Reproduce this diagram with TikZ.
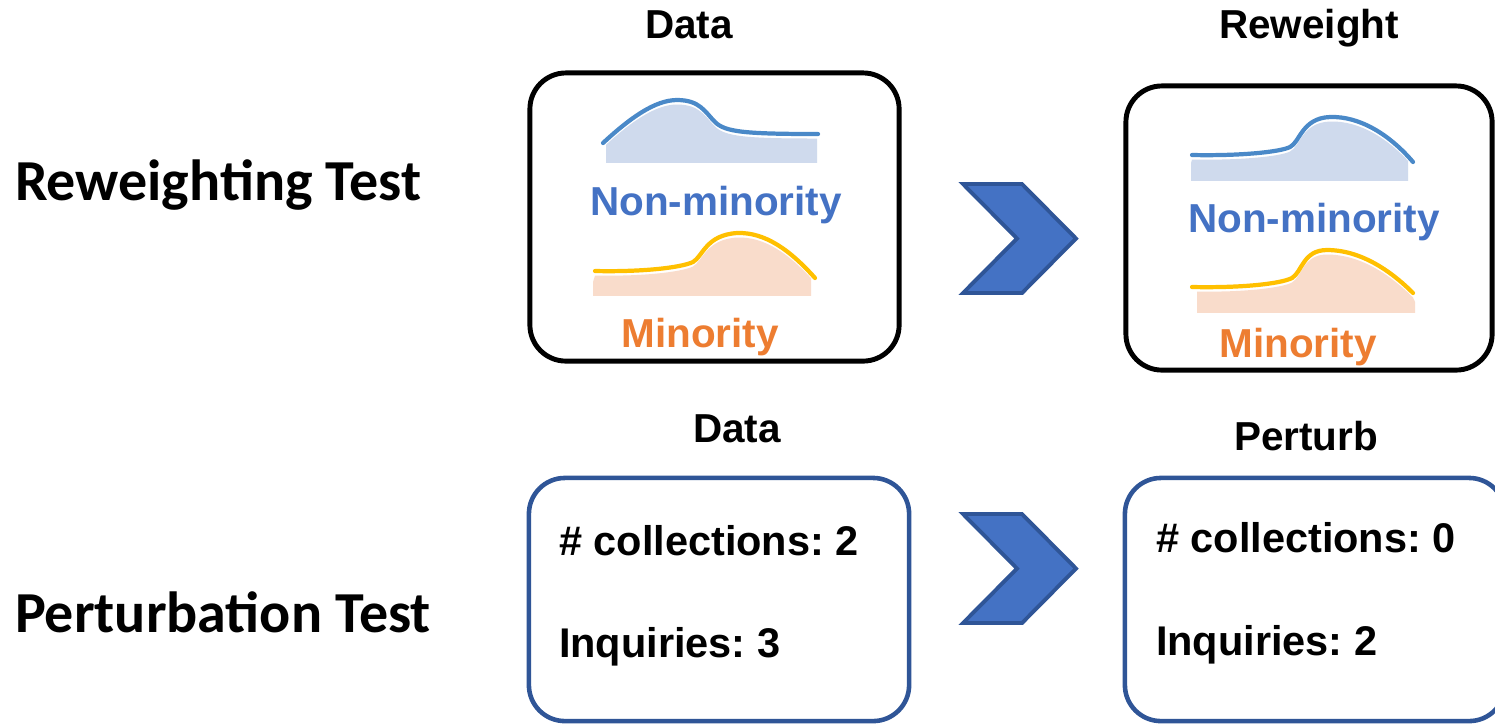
\documentclass[tikz,border=0pt]{standalone}
\usepackage{fontspec}
\setmainfont{Liberation Sans}
\newfontfamily\calfont{Carlito}
\frenchspacing
\begin{document}
\begin{tikzpicture}[x=0.01cm,y=-0.01cm,
  every node/.style={inner sep=0pt, outer sep=0pt},
  lbl/.style={font=\fontsize{11.5pt}{13pt}\selectfont\bfseries, anchor=base},
  rowlbl/.style={font=\calfont\fontsize{16.5pt}{18pt}\selectfont\bfseries, anchor=base west},
  cnt/.style={font=\fontsize{11.8pt}{13pt}\selectfont\bfseries, anchor=base west},
  distbox/.style={draw=black, line width=1.4pt, rounded corners=0.36cm, fill=white},
  countbox/.style={draw=boxblue, line width=1.3pt, rounded corners=0.36cm, fill=white},
  chev/.style={draw=boxblue, fill=chevfill, line width=1.1pt, line join=miter},
  bline/.style={draw=curveblue, line width=1.2pt, line cap=round},
  oline/.style={draw=curveorange, line width=1.2pt, line cap=round}]
\definecolor{boxblue}{HTML}{2F5597}
\definecolor{chevfill}{HTML}{4472C4}
\definecolor{curveblue}{HTML}{4A89C8}
\definecolor{bluefill}{HTML}{CFDAED}
\definecolor{curveorange}{HTML}{FFC000}
\definecolor{orangefill}{HTML}{F9DCCB}
\definecolor{txtblue}{HTML}{4472C4}
\definecolor{txtorange}{HTML}{ED7D31}

\useasboundingbox (0,0) rectangle (1495,723);
\clip (0,0) rectangle (1495,723);

% row labels
\node[rowlbl] (rw) at (15,200) {Reweighting Test};
\node[rowlbl] (pt) at (15,632) {Perturbation Test};

% column titles
\node[lbl] (t1) at (689,38) {Data};
\node[lbl] (t2) at (1309,38) {Reweight};
\node[lbl] (t3) at (737,442) {Data};
\node[lbl] (t4) at (1306,450) {Perturb};

% boxes
\node[distbox, minimum width=3.69cm, minimum height=2.88cm] (b1) at (714.5,217) {};
\node[distbox, minimum width=3.66cm, minimum height=2.84cm] (b2) at (1309,228) {};
\node[countbox, minimum width=3.80cm, minimum height=2.43cm] (b3) at (719,599.5) {};
\node[countbox, minimum width=3.80cm, minimum height=2.43cm] (b4) at (1315,599.5) {};

% distribution curves
\def\curveA{(603,143) .. controls (630,118) and (655,100) .. (677,100) .. controls (700,100) and (705,112) .. (715,122) .. controls (725,132) and (745,134) .. (818,134)}
\def\curveB{(595,271) .. controls (640,272) and (680,268) .. (693,262) .. controls (703,256) and (706,235) .. (737,233) .. controls (765,232) and (790,250) .. (815,278)}
\def\curveC{(1192,155) .. controls (1240,156) and (1280,152) .. (1290,147) .. controls (1300,142) and (1302,118) .. (1330,117) .. controls (1360,116) and (1390,135) .. (1413,162)}
\def\curveD{(1192,287) .. controls (1240,288) and (1280,284) .. (1292,278) .. controls (1302,272) and (1303,250) .. (1327,250) .. controls (1360,250) and (1390,270) .. (1413,293)}

\begin{scope}
  \clip (606,90) rectangle (817,162);
  \fill[bluefill, shift={(0,4.5)}] \curveA -- (830,200) -- (590,200) -- cycle;
\end{scope}
\draw[bline] \curveA;

\begin{scope}
  \clip (593,220) rectangle (811,295);
  \fill[orangefill, shift={(0,4.5)}] \curveB -- (830,320) -- (580,320) -- cycle;
\end{scope}
\draw[oline] \curveB;

\begin{scope}
  \clip (1191,100) rectangle (1408,180);
  \fill[bluefill, shift={(0,4.5)}] \curveC -- (1430,200) -- (1180,200) -- cycle;
\end{scope}
\draw[bline] \curveC;

\begin{scope}
  \clip (1197,235) rectangle (1415,312);
  \fill[orangefill, shift={(0,4.5)}] \curveD -- (1430,330) -- (1180,330) -- cycle;
\end{scope}
\draw[oline] \curveD;

% group labels
\node[lbl, text=txtblue] (nm1) at (716,215) {Non-minority};
\node[lbl, text=txtorange] (m1) at (700,347) {Minority};
\node[lbl, text=txtblue] (nm2) at (1314,232) {Non-minority};
\node[lbl, text=txtorange] (m2) at (1298,357) {Minority};

% counts
\node[cnt] (c1) at (559,555) {\# collections: 2};
\node[cnt] (q1) at (559,657) {Inquiries: 3};
\node[cnt] (c2) at (1156,552) {\# collections: 0};
\node[cnt] (q2) at (1156,655) {Inquiries: 2};

% chevron arrows
\draw[chev] (963,184) -- (1022,184) -- (1076,238.5) -- (1022,293) -- (963,293) -- (1017,238.5) -- cycle;
\draw[chev] (963,514) -- (1022,514) -- (1076,568.5) -- (1022,623) -- (963,623) -- (1017,568.5) -- cycle;
\end{tikzpicture}
\end{document}
